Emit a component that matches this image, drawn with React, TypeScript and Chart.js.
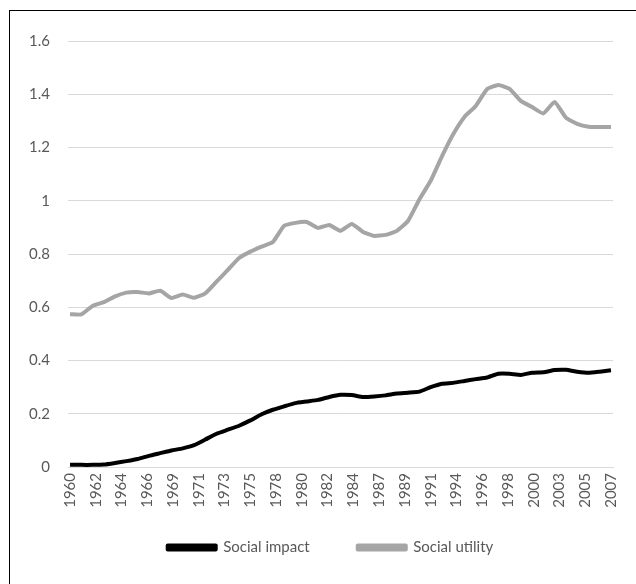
import React, { useEffect, useRef } from "react";
import { Chart, registerables } from "chart.js";

Chart.register(...registerables);

const tickLabels = [
  "1960", "1962", "1964", "1966", "1969", "1971", "1973", "1975", "1978", "1980", "1982",
  "1984", "1987", "1989", "1991", "1994", "1996", "1998", "2000", "2003", "2005", "2007",
];

const socialImpact = [
  0.008, 0.008, 0.008, 0.009, 0.015, 0.022, 0.03, 0.042, 0.052, 0.062,
  0.07, 0.082, 0.103, 0.125, 0.14, 0.155, 0.175, 0.198, 0.215, 0.228,
  0.24, 0.246, 0.252, 0.263, 0.271, 0.27, 0.263, 0.265, 0.269, 0.276,
  0.279, 0.283, 0.3, 0.313, 0.316, 0.323, 0.33, 0.336, 0.35, 0.35,
  0.346, 0.354, 0.356, 0.364, 0.365, 0.358, 0.354, 0.358, 0.363,
];

const socialUtility = [
  0.574, 0.573, 0.605, 0.619, 0.641, 0.655, 0.657, 0.652, 0.662, 0.635,
  0.648, 0.636, 0.652, 0.696, 0.74, 0.785, 0.809, 0.828, 0.845, 0.906,
  0.917, 0.92, 0.898, 0.909, 0.887, 0.913, 0.883, 0.868, 0.872, 0.887,
  0.925, 1.005, 1.075, 1.167, 1.25, 1.315, 1.356, 1.419, 1.435, 1.42,
  1.375, 1.352, 1.328, 1.371, 1.312, 1.289, 1.278, 1.277, 1.277,
];

const seriesNames = ["Social impact", "Social utility"];
const seriesColors = ["#000000", "#a5a5a5"];

const legendShift = {
  id: "legendShift",
  afterLayout(chart: any) {
    const lg = chart.legend;
    if (!lg) return;
    lg.left += 24;
    lg.right += 24;
    lg.top -= 19;
    lg.bottom -= 19;
  },
};

export default function App() {
  const ref = useRef<HTMLCanvasElement | null>(null);

  useEffect(() => {
    if (!ref.current) return;
    const last = socialImpact.length - 1;
    const toPoints = (arr: number[]) => arr.map((v, i) => ({ x: i, y: v }));
    const font = { family: "Lato, 'Open Sans', sans-serif", size: 15 };
    const chart = new Chart(ref.current, {
      type: "line",
      data: {
        datasets: [socialImpact, socialUtility].map((arr, k) => ({
          label: seriesNames[k],
          data: toPoints(arr),
          borderColor: seriesColors[k],
          backgroundColor: seriesColors[k],
          borderWidth: 4,
          pointRadius: 0,
          tension: 0.15,
          borderJoinStyle: "round" as const,
        })),
      },
      plugins: [legendShift],
      options: {
        animation: false,
        responsive: false,
        layout: { padding: { left: 0, right: 23, top: 41, bottom: 0 } },
        plugins: {
          tooltip: { enabled: false },
          legend: {
            position: "bottom",
            maxHeight: 74,
            labels: {
              boxWidth: 48,
              boxHeight: 4,
              padding: 48,
              color: "#595959",
              font,
            },
          },
        },
        scales: {
          x: {
            type: "linear",
            min: -0.18,
            max: last + 0.18,
            afterBuildTicks: (scale: any) => {
              scale.ticks = tickLabels.map((_, k) => ({
                value: (k * last) / (tickLabels.length - 1),
              }));
            },
            afterFit: (scale: any) => {
              scale.height = 44;
            },
            grid: { display: false, drawTicks: false },
            border: { display: true, color: "#d9d9d9", width: 1 },
            ticks: {
              autoSkip: false,
              minRotation: 90,
              maxRotation: 90,
              padding: 6,
              color: "#595959",
              font,
              callback: (_v: any, idx: number) => tickLabels[idx],
            },
          },
          y: {
            min: 0,
            max: 1.6,
            afterFit: (scale: any) => {
              scale.width = 68;
            },
            grid: { color: "#d9d9d9", lineWidth: 1, drawTicks: false },
            border: { display: false },
            ticks: {
              stepSize: 0.2,
              padding: 18,
              color: "#595959",
              font,
              callback: (v: any) => String(Math.round(Number(v) * 10) / 10),
            },
          },
        },
      },
    });
    return () => chart.destroy();
  }, []);

  return (
    <>
      <canvas
        ref={ref}
        width={636}
        height={584}
        style={{ position: "fixed", left: 0, top: 0, width: 636, height: 584 }}
      />
      <div
        style={{
          position: "fixed",
          left: 9,
          top: 10,
          width: 700,
          height: 700,
          borderLeft: "1px solid #000",
          borderTop: "1px solid #000",
          pointerEvents: "none",
        }}
      />
    </>
  );
}
